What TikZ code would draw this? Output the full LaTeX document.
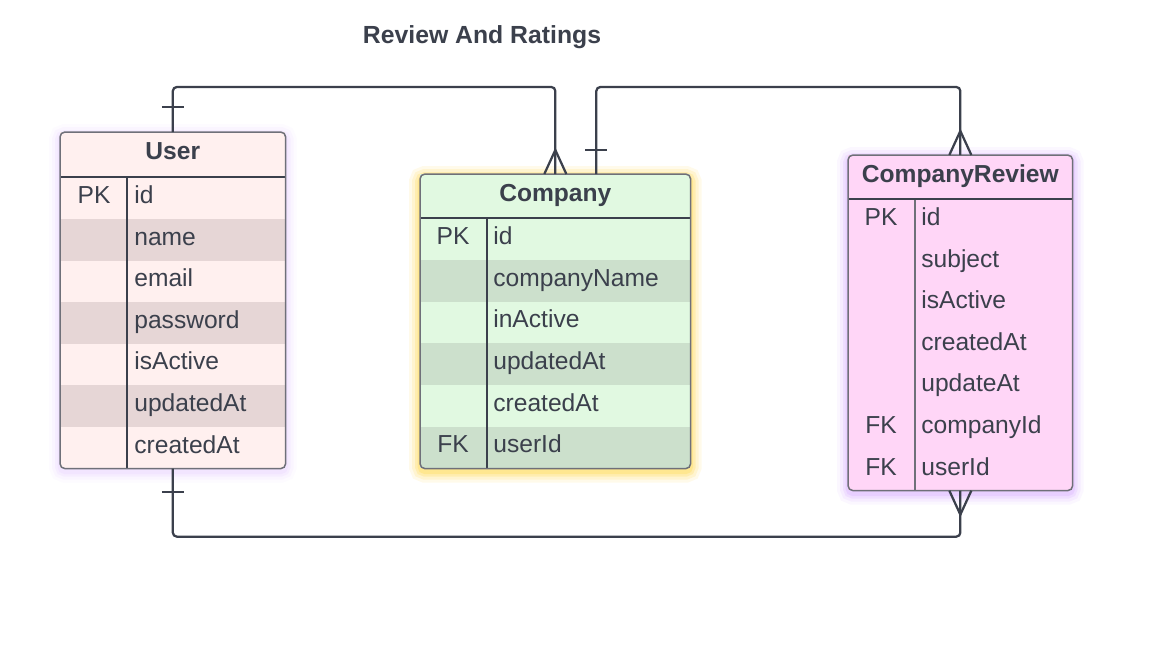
\documentclass[tikz,border=0pt]{standalone}
\usepackage{fontspec}
\setmainfont{Liberation Sans}
\usepackage{xcolor}
\usetikzlibrary{positioning,calc,backgrounds}
\definecolor{inkGray}{HTML}{3B404C}
\definecolor{rimGray}{HTML}{6F7079}
\definecolor{userA}{HTML}{FFF0EF}
\definecolor{userB}{HTML}{E6D6D6}
\definecolor{compA}{HTML}{E1F9E1}
\definecolor{compB}{HTML}{CCE0CC}
\definecolor{revA}{HTML}{FFD6F7}
\definecolor{glowYellow}{HTML}{FFD21F}
\definecolor{glowPurple}{HTML}{B968FF}

\begin{document}
\begin{tikzpicture}[x=0.02cm, y=-0.02cm, font=\fontsize{14}{16}\selectfont, text=inkGray,
  box/.style={rectangle, inner sep=0pt, anchor=north west},
  rowbox/.style={rectangle, inner sep=0pt, anchor=north west, minimum height=0.832cm},
  hd/.style={inner sep=0pt, text height=10pt, text depth=3.8pt, font=\fontsize{14}{16}\selectfont\bfseries},
  key/.style={inner sep=0pt, text height=10pt, text depth=3.8pt},
  field/.style={inner sep=0pt, text height=10pt, text depth=3.8pt, anchor=west},
  sep/.style={draw=inkGray, line width=0.025cm},
  rim/.style={draw=rimGray, line width=0.03cm, rounded corners=0.1cm},
  rel/.style={draw=inkGray, line width=0.045cm}]
  \useasboundingbox (0,0) rectangle (1165,669);
  % title
  \node[font=\fontsize{14.1}{16}\selectfont\bfseries, inner sep=0pt, anchor=base] (title) at (482,43.3) {Review And Ratings};
  % table: User
  \node[box, minimum width=4.5cm, minimum height=6.72cm, fill=userA] (user) at (60,132) {};
  \node[hd] (user-hd) at ($(user.north)+(0,22.5)$) {User};
  \begin{scope}
    \clip[rounded corners=0.1cm] (user.north west) rectangle (user.south east);
    \foreach \k/\f/\c [count=\i] in {PK/id/userA, /name/userB, /email/userA, /password/userB, /isActive/userA, /updatedAt/userB, /createdAt/userA} {
      \node[rowbox, minimum width=4.5cm, fill=\c] (user-\i) at ($(user.north west)+(0,{45+(\i-1)*41.6})$) {};
      \node[key] at ($(user-\i.west)+(34,0)$) {\k};
      \node[field] at ($(user-\i.west)+(74,0)$) {\f};
    }
  \end{scope}
  \draw[sep] ($(user-1.north west)+(67,0)$) -- ($(user-7.south west)+(67,0)$);
  \draw[sep] (user-1.north west) -- (user-1.north east);
  \draw[rim] (user.north west) rectangle (user.south east);
  % table: Company
  \node[box, minimum width=5.4cm, minimum height=5.88cm, fill=compA] (comp) at (420,174) {};
  \node[hd] (comp-hd) at ($(comp.north)+(0,22)$) {Company};
  \begin{scope}
    \clip[rounded corners=0.1cm] (comp.north west) rectangle (comp.south east);
    \foreach \k/\f/\c [count=\i] in {PK/id/compA, /companyName/compB, /inActive/compA, /updatedAt/compB, /createdAt/compA, FK/userId/compB} {
      \node[rowbox, minimum width=5.4cm, fill=\c] (comp-\i) at ($(comp.north west)+(0,{44+(\i-1)*41.67})$) {};
      \node[key] at ($(comp-\i.west)+(33,0)$) {\k};
      \node[field] at ($(comp-\i.west)+(73,0)$) {\f};
    }
  \end{scope}
  \draw[sep] ($(comp-1.north west)+(67,0)$) -- ($(comp-6.south west)+(67,0)$);
  \draw[sep] (comp-1.north west) -- (comp-1.north east);
  \draw[rim] (comp.north west) rectangle (comp.south east);
  % table: CompanyReview
  \node[box, minimum width=4.48cm, minimum height=6.7cm, fill=revA] (rev) at (848,155) {};
  \node[hd] (rev-hd) at ($(rev.north)+(0,22)$) {CompanyReview};
  \foreach \k/\f [count=\i] in {PK/id, /subject, /isActive, /createdAt, /updateAt, FK/companyId, FK/userId} {
    \node[rowbox, minimum width=4.48cm] (rev-\i) at ($(rev.north west)+(0,{44+(\i-1)*41.57})$) {};
    \node[key] at ($(rev-\i.west)+(33,0)$) {\k};
    \node[field] at ($(rev-\i.west)+(73,0)$) {\f};
  }
  \draw[sep, draw=rimGray] ($(rev-1.north west)+(67,0)$) -- ($(rev-7.south west)+(67,0)$);
  \draw[sep] (rev-1.north west) -- (rev-1.north east);
  \draw[rim] (rev.north west) rectangle (rev.south east);
  % glows behind the tables
  \begin{scope}[on background layer]
    \fill[white] (0,0) rectangle (1165,669);
    \foreach \w/\o in {0.44/0.05, 0.32/0.07, 0.2/0.1, 0.1/0.12} {
      \draw[glowPurple, line width=\w cm, opacity=\o*0.5, rounded corners=0.1cm] ($(user.north west)+(0,3)$) rectangle ($(user.south east)+(0,3)$);
      \draw[glowYellow, line width=\w cm, opacity=\o*1.8, rounded corners=0.1cm] ($(comp.north west)+(0,3)$) rectangle ($(comp.south east)+(0,3)$);
      \draw[glowPurple, line width=\w cm, opacity=\o, rounded corners=0.1cm] ($(rev.north west)+(0,3)$) rectangle ($(rev.south east)+(0,3)$);
    }
  \end{scope}
  % relations
  \draw[rel, rounded corners=0.08cm] (user.north) -- ++(0,-45) -| (comp.north);
  \draw[rel, rounded corners=0.08cm] ($(comp.north)+(41,0)$) -- ++(0,-87) -| (rev.north);
  \draw[rel, rounded corners=0.08cm] (user.south) -- ++(0,68) -| (rev.south);
  % ends: one
  \draw[rel] ($(user.north)+(-11,-25)$) -- ++(22,0);
  \draw[rel] ($(comp.north)+(30,-24)$) -- ++(22,0);
  \draw[rel] ($(user.south)+(-11,23)$) -- ++(22,0);
  % ends: many
  \draw[rel] ($(comp.north)+(-11,0)$) -- ($(comp.north)+(0,-24)$) -- ($(comp.north)+(11,0)$);
  \draw[rel] ($(rev.north)+(-11,0)$) -- ($(rev.north)+(0,-24)$) -- ($(rev.north)+(11,0)$);
  \draw[rel] ($(rev.south)+(-11,0)$) -- ($(rev.south)+(0,24)$) -- ($(rev.south)+(11,0)$);
\end{tikzpicture}
\end{document}
